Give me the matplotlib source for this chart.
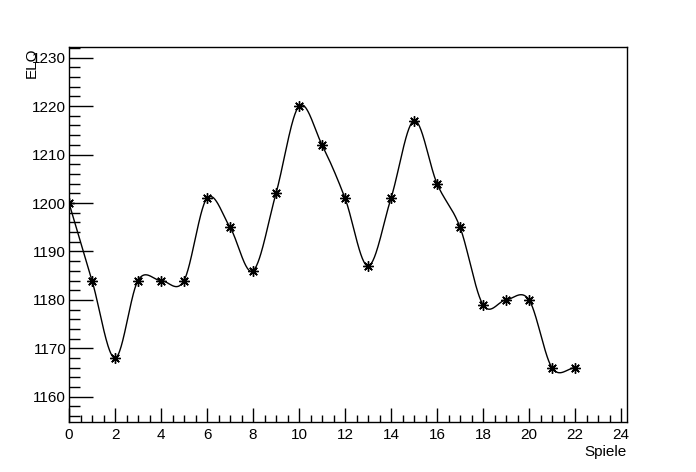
import numpy as np
import matplotlib
matplotlib.use("Agg")
import matplotlib.pyplot as plt
from matplotlib.ticker import MultipleLocator

games = list(range(23))
elo = [1200, 1184, 1168, 1184, 1184, 1184, 1201, 1195, 1186, 1202, 1220,
       1212, 1201, 1187, 1201, 1217, 1204, 1195, 1179, 1180, 1180, 1166, 1166]


def catmull_rom(x, y, xs):
    x = np.asarray(x, float)
    y = np.asarray(y, float)
    n = len(x)
    m = np.zeros(n)
    m[1:-1] = (y[2:] - y[:-2]) / (x[2:] - x[:-2])
    m[0] = (y[1] - y[0]) / (x[1] - x[0])
    m[-1] = (y[-1] - y[-2]) / (x[-1] - x[-2])
    idx = np.clip(np.searchsorted(x, xs) - 1, 0, n - 2)
    h = x[idx + 1] - x[idx]
    t = (xs - x[idx]) / h
    h00 = 2 * t ** 3 - 3 * t ** 2 + 1
    h10 = t ** 3 - 2 * t ** 2 + t
    h01 = -2 * t ** 3 + 3 * t ** 2
    h11 = t ** 3 - t ** 2
    return h00 * y[idx] + h10 * h * m[idx] + h01 * y[idx + 1] + h11 * h * m[idx + 1]


plt.rcParams['font.family'] = ['Liberation Sans', 'DejaVu Sans']

fig = plt.figure(figsize=(6.96, 4.72), dpi=100)
ax = fig.add_axes([69 / 696, 50 / 472, 558 / 696, 375 / 472])

xs = np.linspace(games[0], games[-1], 1000)
ax.plot(xs, catmull_rom(games, elo, xs), color='black', lw=1)
ax.plot(games, elo, linestyle='none', marker=(8, 2, 0), markersize=7.5,
        color='black', markeredgewidth=1)

ax.set_xlim(0, 24.26)
ax.set_ylim(1154.8, 1232.2)
ax.xaxis.set_major_locator(MultipleLocator(2))
ax.xaxis.set_minor_locator(MultipleLocator(0.5))
ax.yaxis.set_major_locator(MultipleLocator(10))
ax.yaxis.set_minor_locator(MultipleLocator(2))
ax.tick_params(axis='both', which='both', direction='in', top=False, right=False,
               labelsize=11, width=1)
ax.tick_params(axis='x', which='major', length=10, pad=4)
ax.tick_params(axis='x', which='minor', length=5)
ax.tick_params(axis='y', which='major', length=17, pad=2)
ax.tick_params(axis='y', which='minor', length=8)
for s in ax.spines.values():
    s.set_linewidth(1)

fig.text(627 / 696, 1 - 452 / 472, 'Spiele', ha='right', va='center', fontsize=11)
fig.text(32 / 696, 1 - 47 / 472, 'ELO', ha='center', va='top', rotation=90, fontsize=11)

fig.savefig('out.png', dpi=100)
